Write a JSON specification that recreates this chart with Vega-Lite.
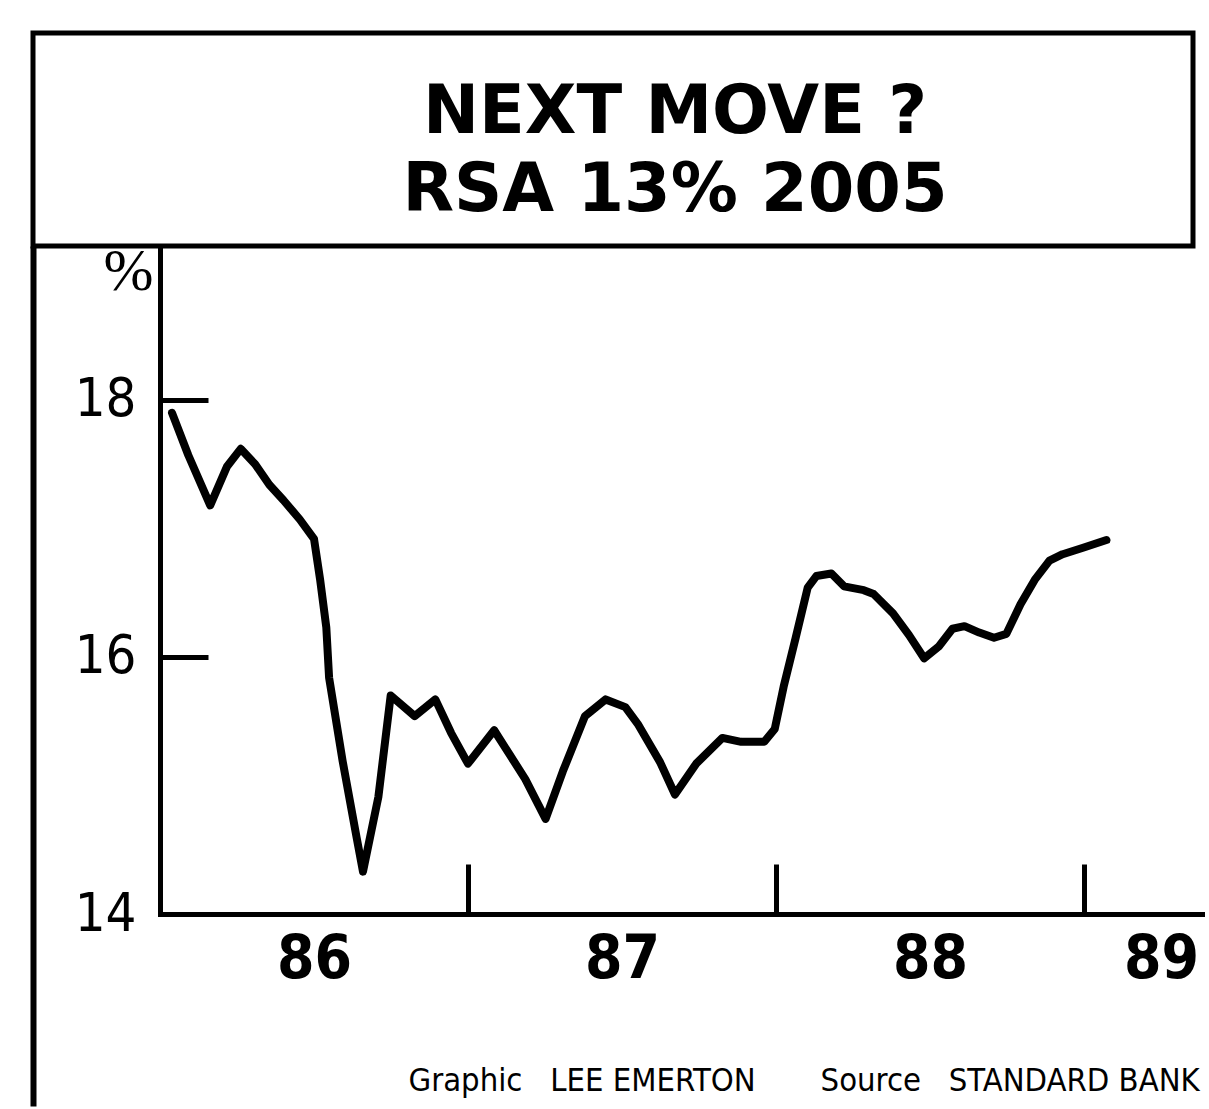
{
  "$schema": "https://vega.github.io/schema/vega-lite/v6.json",
  "background": "white",
  "padding": {"left": 30, "top": 30, "right": 0, "bottom": 4},
  "config": {
    "view": {"stroke": "black", "strokeWidth": 5},
    "font": "Liberation Sans"
  },
  "spacing": -32,
  "vconcat": [
    {
      "width": 1160,
      "height": 213,
      "view": {"stroke": "black", "strokeWidth": 5, "fill": null},
      "data": {"values": [{}]},
      "mark": {
        "type": "text",
        "text": ["NEXT MOVE ?", "RSA 13% 2005"],
        "font": "DejaVu Sans",
        "fontWeight": "bold",
        "fontSize": 67,
        "lineHeight": 78,
        "baseline": "middle",
        "align": "center",
        "color": "black",
        "dx": 62,
        "dy": -27
      }
    },
    {
      "spacing": 0,
      "hconcat": [
        {
          "width": 1,
          "height": 855,
          "view": {"stroke": "black", "strokeWidth": 5, "fill": null},
          "data": {"values": []},
          "mark": "point"
        },
        {
          "width": 1045,
          "height": 665,
          "view": {"stroke": null},
          "data": {
            "values": [
              {"date": 1986.039, "rate": 17.90},
              {"date": 1986.092, "rate": 17.57},
              {"date": 1986.163, "rate": 17.18},
              {"date": 1986.217, "rate": 17.48},
              {"date": 1986.262, "rate": 17.62},
              {"date": 1986.309, "rate": 17.50},
              {"date": 1986.355, "rate": 17.34},
              {"date": 1986.401, "rate": 17.22},
              {"date": 1986.454, "rate": 17.07},
              {"date": 1986.500, "rate": 16.92},
              {"date": 1986.520, "rate": 16.60},
              {"date": 1986.540, "rate": 16.23},
              {"date": 1986.549, "rate": 15.84},
              {"date": 1986.593, "rate": 15.19},
              {"date": 1986.638, "rate": 14.60},
              {"date": 1986.659, "rate": 14.33},
              {"date": 1986.709, "rate": 14.91},
              {"date": 1986.749, "rate": 15.70},
              {"date": 1986.827, "rate": 15.54},
              {"date": 1986.894, "rate": 15.67},
              {"date": 1986.945, "rate": 15.41},
              {"date": 1987.000, "rate": 15.17},
              {"date": 1987.085, "rate": 15.43},
              {"date": 1987.186, "rate": 15.05},
              {"date": 1987.252, "rate": 14.74},
              {"date": 1987.308, "rate": 15.11},
              {"date": 1987.380, "rate": 15.54},
              {"date": 1987.447, "rate": 15.67},
              {"date": 1987.511, "rate": 15.61},
              {"date": 1987.551, "rate": 15.48},
              {"date": 1987.624, "rate": 15.18},
              {"date": 1987.672, "rate": 14.93},
              {"date": 1987.741, "rate": 15.17},
              {"date": 1987.826, "rate": 15.37},
              {"date": 1987.887, "rate": 15.34},
              {"date": 1987.962, "rate": 15.34},
              {"date": 1987.996, "rate": 15.44},
              {"date": 1988.025, "rate": 15.77},
              {"date": 1988.064, "rate": 16.15},
              {"date": 1988.103, "rate": 16.54},
              {"date": 1988.131, "rate": 16.63},
              {"date": 1988.180, "rate": 16.65},
              {"date": 1988.221, "rate": 16.55},
              {"date": 1988.285, "rate": 16.52},
              {"date": 1988.317, "rate": 16.49},
              {"date": 1988.380, "rate": 16.34},
              {"date": 1988.432, "rate": 16.17},
              {"date": 1988.481, "rate": 15.99},
              {"date": 1988.528, "rate": 16.08},
              {"date": 1988.573, "rate": 16.22},
              {"date": 1988.612, "rate": 16.24},
              {"date": 1988.660, "rate": 16.19},
              {"date": 1988.708, "rate": 16.15},
              {"date": 1988.748, "rate": 16.18},
              {"date": 1988.794, "rate": 16.41},
              {"date": 1988.840, "rate": 16.60},
              {"date": 1988.888, "rate": 16.75},
              {"date": 1988.931, "rate": 16.80},
              {"date": 1988.997, "rate": 16.85},
              {"date": 1989.073, "rate": 16.91}
            ]
          },
          "mark": {
            "type": "line",
            "color": "black",
            "strokeWidth": 8,
            "strokeJoin": "round",
            "strokeCap": "round"
          },
          "encoding": {
            "x": {
              "field": "date",
              "type": "quantitative",
              "scale": {"domain": [1986, 1989.393], "nice": false, "zero": false},
              "axis": {
                "values": [1986.5, 1987, 1987.5, 1988, 1988.5, 1989, 1989.25],
                "labelExpr": "datum.value % 1 == 0 ? '' : datum.value < 1987 ? '86' : datum.value < 1988 ? '87' : datum.value < 1989 ? '88' : '89'",
                "tickSize": -50,
                "tickWidth": 5,
                "tickColor": "black",
                "tickOpacity": {"condition": {"test": "datum.value % 1 == 0", "value": 1}, "value": 0},
                "labelPadding": 66,
                "labelBaseline": "top",
                "labelAlign": "center",
                "labelFont": "DejaVu Sans Condensed, Liberation Sans",
                "labelFontSize": 60,
                "labelFontWeight": "bold",
                "labelColor": "black",
                "labelOverlap": false,
                "labelFlush": false,
                "labelBound": false,
                "domainColor": "black",
                "domainWidth": 5,
                "domainCap": "square",
                "grid": false,
                "title": "Graphic\u00a0\u00a0 LEE EMERTON\u00a0\u00a0\u00a0\u00a0\u00a0\u00a0 Source\u00a0\u00a0 STANDARD BANK",
                "titleX": 248,
                "titleY": 166,
                "titleAlign": "left",
                "titleAnchor": "start",
                "titleBaseline": "middle",
                "titleFont": "DejaVu Sans Condensed, Liberation Sans",
                "titleFontSize": 32.5,
                "titleFontWeight": "normal",
                "titleColor": "black"
              }
            },
            "y": {
              "field": "rate",
              "type": "quantitative",
              "scale": {"domain": [14, 19.175], "nice": false, "zero": false},
              "axis": {
                "values": [14, 16, 18],
                "format": "d",
                "tickSize": -48,
                "tickWidth": 5,
                "tickColor": "black",
                "labelPadding": 72,
                "labelFont": "DejaVu Sans Condensed, Liberation Sans",
                "labelFontSize": 54,
                "labelFontWeight": "normal",
                "labelColor": "black",
                "labelBaseline": "middle",
                "labelFlush": false,
                "labelOverlap": false,
                "domainColor": "black",
                "domainWidth": 5,
                "domainCap": "square",
                "grid": false,
                "title": "%",
                "titleAngle": 0,
                "titleX": -32,
                "titleY": 22,
                "titleAlign": "center",
                "titleBaseline": "middle",
                "titleFont": "Liberation Serif",
                "titleFontSize": 60,
                "titleFontWeight": "normal",
                "titleColor": "black",
                "minExtent": 123
              }
            }
          }
        }
      ]
    }
  ]
}
